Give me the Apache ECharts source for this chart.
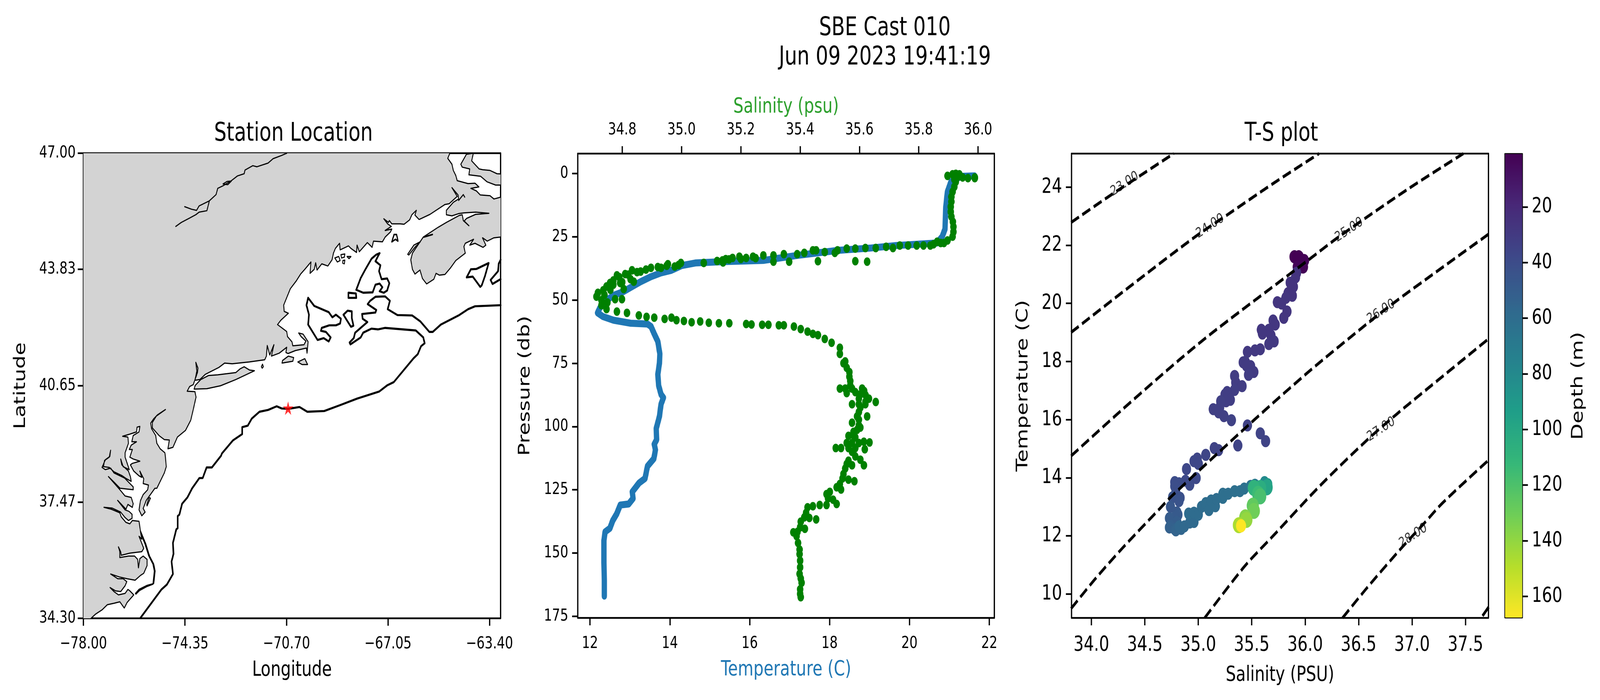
<!DOCTYPE html>
<html><head><meta charset="utf-8">
<style>html,body{margin:0;padding:0;background:#fff;overflow:hidden;width:100%;height:100%}#c{width:5392px;height:1791px;transform-origin:0 0}</style>
<script src="https://cdn.jsdelivr.net/npm/echarts@6/dist/echarts.min.js"></script></head>
<body><div id="c"></div>
<script>
// ---------- Station map (lon, lat) ----------
const lonTicks=[-78,-74.35,-70.7,-67.05,-63.4];
const latTicks=[34.30,37.47,40.65,43.83,47.00];
const station=[[-70.64,40.04]];
const landMain=[[-77.85,34.2],[-77.71,34.31],[-77.57,34.41],[-77.33,34.53],[-77.14,34.67],[-76.90,34.71],[-76.69,34.75],[-76.53,34.58],[-76.43,34.73],[-76.19,34.94],[-76.33,35.05],[-76.40,35.09],[-76.50,34.98],[-76.74,34.94],[-76.90,35.03],[-77.04,35.14],[-76.85,35.05],[-76.66,35.03],[-76.50,35.19],[-76.44,35.30],[-76.57,35.38],[-76.76,35.38],[-77.02,35.51],[-76.71,35.43],[-76.43,35.38],[-76.14,35.34],[-75.95,35.47],[-75.83,35.53],[-75.71,35.74],[-75.71,35.91],[-75.85,36.00],[-75.97,35.93],[-76.02,35.68],[-76.05,35.91],[-76.16,36.00],[-76.38,36.00],[-76.69,35.96],[-76.69,36.12],[-76.74,36.25],[-76.66,36.12],[-76.64,36.02],[-76.33,36.08],[-75.90,36.12],[-75.83,36.21],[-76.00,36.54],[-75.90,36.46],[-75.95,36.69],[-76.00,36.95],[-76.24,36.97],[-76.33,36.88],[-76.47,36.92],[-76.64,37.07],[-76.69,37.18],[-77.00,37.28],[-77.26,37.33],[-76.97,37.31],[-76.66,37.20],[-76.50,37.05],[-76.38,36.97],[-76.25,37.03],[-76.25,37.14],[-76.36,37.22],[-76.50,37.26],[-76.77,37.52],[-76.47,37.28],[-76.40,37.41],[-76.24,37.33],[-76.21,37.43],[-76.28,37.60],[-76.50,37.64],[-76.71,37.83],[-77.10,38.17],[-76.90,38.02],[-76.68,37.85],[-76.21,37.81],[-76.21,37.89],[-76.38,38.02],[-76.52,38.13],[-76.90,38.27],[-77.02,38.40],[-77.21,38.36],[-77.33,38.42],[-77.21,38.63],[-77.05,38.72],[-77.02,38.89],[-77.07,38.70],[-77.24,38.61],[-77.28,38.44],[-77.07,38.42],[-76.90,38.30],[-76.62,38.20],[-76.45,38.11],[-76.28,38.04],[-76.31,38.17],[-76.38,38.32],[-76.62,38.49],[-76.66,38.65],[-76.57,38.44],[-76.35,38.36],[-76.50,38.70],[-76.50,38.82],[-76.38,39.08],[-76.40,39.25],[-76.59,39.27],[-76.33,39.33],[-76.09,39.39],[-76.07,39.52],[-75.97,39.54],[-76.00,39.39],[-76.21,39.29],[-76.26,39.12],[-76.09,39.12],[-76.28,39.03],[-76.35,38.91],[-76.24,38.91],[-76.33,38.70],[-76.21,38.65],[-75.97,38.59],[-76.24,38.53],[-76.31,38.49],[-76.19,38.32],[-76.00,38.19],[-75.90,38.15],[-75.97,38.32],[-75.83,38.11],[-75.85,37.98],[-75.66,37.94],[-75.69,37.81],[-75.85,37.68],[-75.95,37.51],[-76.00,37.26],[-75.90,37.10],[-75.78,37.20],[-75.85,37.30],[-75.74,37.52],[-75.43,37.85],[-75.36,37.85],[-75.09,38.27],[-75.02,38.44],[-75.05,38.70],[-75.07,38.82],[-75.24,38.93],[-75.36,39.08],[-75.40,39.29],[-75.55,39.48],[-75.58,39.63],[-75.47,39.75],[-75.33,39.86],[-75.05,40.00],[-75.38,39.82],[-75.52,39.65],[-75.52,39.50],[-75.28,39.29],[-75.09,39.18],[-74.91,39.17],[-74.96,38.93],[-74.78,38.97],[-74.62,39.25],[-74.33,39.43],[-74.14,39.71],[-74.05,40.00],[-73.95,40.34],[-73.99,40.49],[-74.27,40.50],[-74.18,40.63],[-74.05,40.68],[-73.90,41.01],[-73.88,41.13],[-73.96,41.29],[-73.92,41.05],[-73.99,40.80],[-73.81,40.82],[-73.62,40.96],[-73.13,41.15],[-72.92,41.27],[-72.65,41.25],[-72.03,41.30],[-71.48,41.36],[-71.42,41.46],[-71.39,41.75],[-71.30,41.49],[-71.15,41.77],[-71.24,41.46],[-70.96,41.54],[-70.69,41.70],[-70.72,41.56],[-70.64,41.53],[-70.38,41.61],[-69.98,41.68],[-69.96,41.54],[-69.92,41.85],[-70.10,42.06],[-70.26,42.09],[-70.17,41.99],[-70.00,41.87],[-70.07,41.77],[-70.47,41.74],[-70.50,41.85],[-70.66,41.99],[-70.69,42.13],[-71.02,42.32],[-70.90,42.44],[-70.63,42.63],[-70.78,42.68],[-70.80,42.85],[-70.56,43.30],[-70.34,43.52],[-70.19,43.70],[-70.04,43.83],[-69.82,44.03],[-69.85,43.72],[-69.70,43.83],[-69.65,44.01],[-69.60,43.81],[-69.43,43.98],[-69.21,43.92],[-69.06,44.09],[-69.01,44.27],[-68.94,44.40],[-68.79,44.54],[-68.77,44.36],[-68.47,44.47],[-68.38,44.40],[-68.18,44.29],[-68.16,44.49],[-68.08,44.31],[-67.79,44.56],[-67.62,44.43],[-67.57,44.60],[-67.25,44.58],[-67.15,44.71],[-66.96,44.85],[-66.91,44.93],[-67.15,44.89],[-66.93,45.00],[-67.06,45.07],[-67.20,45.21],[-67.03,45.11],[-67.00,45.16],[-66.91,45.07],[-66.61,45.07],[-66.47,45.06],[-66.27,45.18],[-66.19,45.32],[-66.03,45.44],[-66.08,45.31],[-65.93,45.19],[-65.54,45.33],[-65.00,45.60],[-64.85,45.62],[-64.56,45.82],[-64.75,46.06],[-64.53,45.86],[-64.51,45.75],[-64.70,45.66],[-64.95,45.44],[-64.95,45.32],[-64.75,45.29],[-64.51,45.35],[-64.33,45.37],[-63.90,45.39],[-63.42,45.36],[-63.90,45.33],[-64.22,45.22],[-64.31,45.15],[-64.14,45.02],[-64.34,45.16],[-64.38,45.32],[-64.49,45.30],[-64.95,45.11],[-65.24,44.98],[-65.78,44.71],[-66.17,44.27],[-66.23,44.09],[-66.17,43.83],[-66.08,43.70],[-65.90,43.81],[-65.81,43.58],[-65.66,43.43],[-65.40,43.56],[-65.32,43.72],[-65.20,43.67],[-65.00,43.69],[-64.80,43.87],[-64.61,44.07],[-64.27,44.27],[-64.32,44.45],[-64.27,44.54],[-63.97,44.65],[-64.11,44.49],[-63.92,44.54],[-63.63,44.43],[-63.53,44.49],[-63.65,44.69],[-63.48,44.60],[-63.24,44.69],[-63.00,44.71],[-62.8,44.7],[-62.8,45.8],[-63.00,45.80],[-63.24,45.75],[-63.38,45.84],[-63.73,45.86],[-63.87,45.97],[-64.07,46.04],[-63.78,46.08],[-63.92,46.18],[-64.17,46.17],[-64.56,46.25],[-64.61,46.39],[-64.70,46.53],[-64.75,46.70],[-64.90,46.86],[-64.83,46.99],[-64.7,47.3],[-80,47.3],[-80,33.5]];
const outerBanks=[[-75.95,36.69],[-75.76,36.34],[-75.62,36.0],[-75.47,35.78],[-75.42,35.59],[-75.47,35.25],[-75.71,35.20],[-76.0,35.09],[-76.13,34.98],[-76.11,34.96],[-75.98,35.06],[-75.71,35.17],[-75.50,35.23],[-75.45,35.59],[-75.50,35.78],[-75.65,36.0],[-75.79,36.34],[-75.93,36.60]];
const longIsland=[[-74.02,40.56],[-73.56,40.57],[-73.07,40.65],[-72.52,40.82],[-71.85,41.06],[-72.03,41.08],[-72.22,41.17],[-72.37,41.11],[-72.52,41.01],[-73.17,40.95],[-73.50,40.93],[-73.78,40.82],[-73.98,40.66]];
const marthasVineyard=[[-70.86,41.27],[-70.84,41.34],[-70.63,41.46],[-70.44,41.42],[-70.47,41.32]];
const nantucket=[[-70.29,41.30],[-70.04,41.39],[-69.94,41.23],[-70.14,41.23]];
const assateague=[[-75.71,37.37],[-75.59,37.58],[-75.64,37.60],[-75.72,37.41]];
const digbyNeck=[[-66.34,44.24],[-66.12,44.49],[-65.89,44.58],[-65.95,44.53],[-66.08,44.43],[-66.30,44.22]];
const princeEdward=[[-64.23,46.97],[-63.98,47.0],[-64.04,46.79],[-63.77,46.57],[-63.64,46.55],[-63.38,46.53],[-63.13,46.44],[-62.9,46.43],[-62.9,46.13],[-63.18,46.13],[-63.49,46.22],[-63.72,46.37],[-64.14,46.41],[-64.11,46.57],[-64.38,46.62],[-64.43,46.70]];
const capeIslands=[marthasVineyard,nantucket,assateague,digbyNeck,princeEdward,longIsland,outerBanks];
const shelfEdge=[[-75.95,34.31],[-75.19,35.09],[-75.00,35.22],[-74.78,35.51],[-74.83,35.85],[-74.76,36.06],[-74.78,36.36],[-74.66,36.73],[-74.61,36.76],[-74.61,37.09],[-74.55,37.13],[-74.45,37.43],[-74.26,37.60],[-74.09,37.85],[-73.83,38.13],[-73.71,38.13],[-73.57,38.42],[-73.38,38.42],[-73.05,38.74],[-73.02,38.80],[-72.62,39.16],[-72.29,39.33],[-72.29,39.52],[-72.09,39.56],[-71.95,39.75],[-71.67,39.94],[-71.36,39.99],[-71.05,40.09],[-70.87,40.03],[-70.63,40.02],[-70.23,40.07],[-69.95,39.94],[-69.34,39.96],[-68.74,40.13],[-68.16,40.30],[-67.37,40.49],[-67.08,40.66],[-66.84,40.75],[-66.13,41.40],[-65.98,41.51],[-65.86,41.73],[-65.73,41.81],[-65.78,41.97],[-66.05,42.16],[-67.15,42.23],[-67.40,42.19],[-67.64,42.21],[-67.94,42.10],[-68.03,41.97],[-68.40,41.78],[-68.43,41.83],[-68.28,41.95],[-68.23,42.10],[-67.79,42.39],[-67.96,42.48],[-67.98,42.61],[-67.50,42.65],[-67.47,42.72],[-67.78,42.88],[-67.69,42.97],[-67.50,43.08],[-67.15,43.09],[-66.98,42.97],[-67.06,42.74],[-66.71,42.58],[-66.18,42.57],[-65.89,42.41],[-65.56,42.12],[-65.44,42.12],[-65.15,42.32],[-64.51,42.57],[-64.17,42.74],[-63.92,42.82],[-63.00,42.85]];
const basinA=[[-69.92,43.05],[-69.70,42.83],[-69.18,42.66],[-69.05,42.52],[-68.92,42.59],[-68.74,42.48],[-68.77,42.35],[-68.92,42.30],[-69.16,42.30],[-69.43,42.23],[-69.46,42.15],[-69.28,42.12],[-69.11,41.97],[-69.18,41.86],[-69.36,41.95],[-69.58,41.90],[-69.92,42.32],[-69.89,42.59],[-69.98,42.85],[-69.92,43.05]];
const basinB=[[-68.65,42.59],[-68.50,42.70],[-68.35,42.68],[-68.35,42.50],[-68.29,42.29],[-68.38,42.26],[-68.52,42.43],[-68.65,42.59]];
const basinC=[[-67.35,44.27],[-67.47,44.23],[-67.64,44.12],[-67.86,43.83],[-68.03,43.59],[-68.19,43.27],[-67.94,43.19],[-67.60,43.20],[-67.50,43.41],[-67.35,43.44],[-67.25,43.34],[-67.35,43.23],[-67.20,43.19],[-67.08,43.25],[-67.00,43.45],[-67.08,43.58],[-67.28,43.56],[-67.37,43.78],[-67.32,43.94],[-67.50,44.05],[-67.40,44.20],[-67.35,44.27]];
const basinD=[[-68.47,43.19],[-68.20,43.17],[-68.19,43.05],[-68.47,43.05],[-68.47,43.19]];
const basinE=[[-64.22,43.61],[-64.07,43.83],[-63.87,43.84],[-63.43,44.00],[-63.56,43.65],[-63.68,43.39],[-63.73,43.35],[-64.00,43.63],[-64.22,43.61]];
const basinF=[[-63.00,43.56],[-63.29,43.43],[-63.36,43.54],[-63.09,43.78],[-63.07,43.98],[-63.00,44.09]];
const stLawrence=[[-74.68,45.00],[-74.48,45.11],[-74.18,45.23],[-73.96,45.32],[-73.84,45.39],[-73.56,45.43],[-73.47,45.70],[-73.23,45.87],[-73.17,46.04],[-72.98,46.11],[-72.68,46.25],[-72.46,46.38],[-72.22,46.44],[-72.19,46.54],[-71.91,46.66],[-71.76,46.63],[-71.36,46.73],[-71.18,46.85],[-70.87,46.94],[-70.69,47.00]];
const ottawaRiver=[[-74.36,45.54],[-74.11,45.47],[-73.93,45.44],[-73.84,45.56],[-73.47,45.70]];
const lakeStPierre=[[-72.98,46.16],[-72.83,46.23],[-72.68,46.24],[-72.81,46.14],[-72.98,46.16]];
const blockIsland=[[-71.60,41.17],[-71.56,41.24],[-71.53,41.17],[-71.57,41.13],[-71.60,41.17]];
const grandManan=[[-66.91,44.58],[-66.83,44.78],[-66.74,44.78],[-66.69,44.60],[-66.78,44.65],[-66.91,44.58]];
const penobA=[[-68.96,44.14],[-68.82,44.18],[-68.77,44.07],[-68.87,44.03],[-68.96,44.14]];
const penobB=[[-68.74,44.23],[-68.60,44.25],[-68.62,44.16],[-68.72,44.14],[-68.74,44.23]];
const penobC=[[-68.67,44.07],[-68.60,44.08],[-68.62,43.98],[-68.68,44.00],[-68.67,44.07]];
const penobD=[[-68.52,44.18],[-68.38,44.18],[-68.45,44.12],[-68.52,44.18]];
const baieVerte=[[-64.51,45.71],[-64.34,45.87],[-64.29,45.80]];
const stMarys=[[-65.76,44.71],[-65.45,44.78]];
// ---------- CTD profile ----------
const tempTicks=[12,14,16,18,20,22];
const salTicks=[34.8,35.0,35.2,35.4,35.6,35.8,36.0];
const presTicks=[0,25,50,75,100,125,150,175];
const tempProfile=[[21.63,1],[21.29,1.2],[21.04,3.3],[20.95,7.3],[20.91,13.2],[20.89,22],[20.82,25],[20.69,27.5],[19.67,28.5],[19.03,29.5],[18.22,30.4],[17.2,32.4],[16.34,34.4],[15.32,34.9],[14.64,35.4],[14.3,36.4],[14.04,38.3],[13.78,39.3],[13.53,40.8],[13.27,42.8],[13.06,44.7],[12.84,46.7],[12.59,48.2],[12.42,50.1],[12.25,53.1],[12.19,55.1],[12.33,56.6],[12.59,58],[13.02,59.2],[13.44,59.5],[13.53,60.5],[13.61,63.4],[13.7,66.4],[13.75,71.3],[13.74,75],[13.7,79.4],[13.72,83.8],[13.78,87.3],[13.84,88.6],[13.78,91.2],[13.74,96],[13.66,100.8],[13.67,105.2],[13.61,107],[13.64,109.2],[13.6,112.7],[13.44,115.7],[13.38,120.5],[13.23,122.3],[13.06,125.8],[13.08,128.4],[12.97,130.6],[12.76,131],[12.67,134.5],[12.57,137.2],[12.5,140.2],[12.38,141.6],[12.35,145],[12.35,153.8],[12.36,160.8],[12.36,167]];
const salProfile=[[35.897,1],[35.914,0.4],[35.925,0.2],[35.937,0.4],[35.948,1.6],[35.966,1.9],[35.989,1.6],[35.989,1.9],[35.93,1.6],[35.92,2.4],[35.925,3.3],[35.92,5.3],[35.914,7.3],[35.91,9.3],[35.91,11.2],[35.908,13.2],[35.908,15.2],[35.91,17.1],[35.915,19.1],[35.917,21.1],[35.917,23.1],[35.914,25],[35.897,26.5],[35.874,27.5],[35.85,28],[35.885,27.5],[35.862,27],[35.839,28.5],[35.816,28.5],[35.793,28.5],[35.764,28.5],[35.736,28.5],[35.713,29.5],[35.69,29],[35.655,29.5],[35.62,29.5],[35.586,29.7],[35.557,29.7],[35.526,30.4],[35.517,31.4],[35.483,31.1],[35.454,30.4],[35.443,30.4],[35.414,31.4],[35.39,31.9],[35.345,31.9],[35.31,32.4],[35.276,32.4],[35.241,32.9],[35.218,33.4],[35.195,32.9],[35.172,33.4],[35.149,33.9],[35.138,34.4],[35.16,34],[35.2,33.8],[35.25,33.5],[35.12,34.6],[35.14,35.2],[35.31,34.9],[35.363,34.9],[35.46,34.7],[35.586,34.7],[35.626,34.9],[35.075,35.4],[34.998,35.4],[34.977,36.8],[34.954,35.9],[34.931,37.3],[34.897,37.3],[34.862,38.8],[34.833,38.3],[34.81,39.8],[34.828,41.8],[34.839,42.8],[34.782,40.3],[34.77,42.3],[34.793,43.3],[34.759,43.3],[34.747,44.7],[34.805,45.7],[34.736,46.2],[34.718,47.2],[34.713,48.7],[34.799,49.7],[34.776,49.7],[34.73,50.1],[34.73,52.1],[34.79,41],[34.80,43],[34.77,44],[34.76,46],[34.82,40],[34.85,39],[34.88,38],[34.92,37],[34.95,36.5],[34.99,36.2],[34.74,48],[34.75,51],[34.747,53.6],[34.782,54.6],[34.816,55.1],[34.856,56.1],[34.882,56.7],[34.908,57],[34.943,57.5],[34.966,57],[34.983,58],[35.008,58.3],[35.034,58.8],[35.063,58.5],[35.092,59],[35.126,59.2],[35.161,59.2],[35.218,59.5],[35.236,59.7],[35.272,59.8],[35.293,59.8],[35.328,60],[35.345,60],[35.379,60.5],[35.402,61.5],[35.425,62.5],[35.443,63.4],[35.46,63.9],[35.483,65.4],[35.506,66.9],[35.534,68.9],[35.534,71.3],[35.552,74.3],[35.546,75],[35.557,76.8],[35.566,78.5],[35.566,80.3],[35.569,82],[35.569,83.8],[35.575,85],[35.534,85],[35.552,85],[35.609,85],[35.616,86],[35.557,86.8],[35.586,86.4],[35.603,87.3],[35.621,87.7],[35.632,89],[35.655,90.3],[35.62,90.3],[35.598,89],[35.575,91.2],[35.598,91.2],[35.62,91.2],[35.603,92.5],[35.598,94.3],[35.626,96],[35.592,96],[35.598,97.3],[35.575,98.5],[35.598,99.5],[35.603,100.4],[35.592,101.3],[35.58,102.1],[35.58,103.5],[35.563,103.7],[35.586,104.3],[35.557,106.5],[35.575,106.5],[35.598,106.5],[35.615,106],[35.634,106.3],[35.52,108.5],[35.538,108.5],[35.563,108.5],[35.586,108.5],[35.618,109],[35.575,110],[35.586,111.8],[35.563,113.5],[35.603,113.1],[35.557,114.8],[35.575,115.3],[35.615,115.3],[35.552,116.6],[35.546,118.8],[35.543,120.5],[35.563,121],[35.583,121.6],[35.534,122.7],[35.523,124],[35.538,124.9],[35.5,125.8],[35.489,126.7],[35.494,128.4],[35.511,128.9],[35.523,130.6],[35.489,131],[35.466,131],[35.443,131.5],[35.425,131.9],[35.42,134.1],[35.414,135.9],[35.431,136.1],[35.454,136.7],[35.402,137.6],[35.4,139.8],[35.416,140.4],[35.391,141.6],[35.377,141.8],[35.388,143.3],[35.393,146],[35.398,148.6],[35.398,150.4],[35.4,153],[35.4,155.6],[35.398,158.2],[35.402,160],[35.405,161.7],[35.4,164.3],[35.4,166.1],[35.402,167.4]];
// ---------- T-S diagram: salinity, temperature, depth ----------
const tsSalTicks=[34,34.5,35,35.5,36,36.5,37,37.5];
const tsTempTicks=[10,12,14,16,18,20,22,24];
const depthTicks=[20,40,60,80,100,120,140,160];
const tsPoints=[[35.90,21.60,1],[35.94,21.60,1],[35.99,21.47,2],[35.98,21.25,2],[35.93,21.25,3],[35.92,21.05,26],[35.91,20.89,26],[35.86,20.71,26],[35.89,20.57,26],[35.84,20.35,26],[35.88,20.26,26],[35.82,20.19,27],[35.74,20.04,27],[35.78,19.99,27],[35.83,19.72,27],[35.80,19.50,27],[35.70,19.41,28],[35.72,19.27,28],[35.66,19.09,28],[35.59,19.09,28],[35.60,18.96,28],[35.68,18.90,28],[35.71,18.69,29],[35.66,18.60,29],[35.58,18.42,29],[35.53,18.38,29],[35.46,18.33,29],[35.42,17.97,30],[35.44,17.99,30],[35.49,17.84,30],[35.45,17.86,30],[35.52,17.64,30],[35.47,17.54,31],[35.34,17.50,31],[35.35,17.28,31],[35.41,17.15,31],[35.34,17.02,32],[35.27,16.95,32],[35.25,16.86,32],[35.30,16.68,32],[35.26,16.63,32],[35.21,16.63,33],[35.20,16.41,33],[35.14,16.36,33],[35.19,16.25,33],[35.24,16.12,33],[35.31,15.98,34],[35.46,15.80,34],[35.58,15.53,35],[35.63,15.26,35],[35.37,15.11,35],[35.19,14.95,35],[35.15,15.02,35],[35.07,14.79,36],[34.99,14.66,36],[34.96,14.57,37],[35.00,14.48,37],[34.89,14.30,37],[34.98,13.99,38],[34.88,13.90,38],[34.92,13.76,39],[34.82,13.81,40],[34.78,13.85,40],[34.78,13.71,41],[34.79,13.49,41],[34.83,13.31,42],[34.76,13.33,44],[34.82,13.20,44],[34.74,13.00,46],[34.80,12.81,47],[34.81,12.73,48],[34.78,12.64,48],[34.73,12.61,49],[34.80,12.48,50],[34.74,12.35,51],[34.73,12.29,52],[34.78,12.23,53],[34.79,12.19,54],[34.84,12.24,55],[34.82,12.33,56],[34.87,12.33,57],[34.92,12.46,57],[34.96,12.48,58],[34.91,12.77,59],[34.96,12.80,59],[35.00,12.73,59],[35.03,13.00,59],[35.07,13.13,60],[35.10,12.89,60],[35.12,13.22,60],[35.16,13.02,60],[35.17,13.27,60],[35.23,13.31,61],[35.23,13.45,61],[35.28,13.45,61],[35.34,13.54,62],[35.39,13.54,62],[35.43,13.63,63],[35.49,13.72,65],[35.53,13.76,70],[35.62,13.85,80],[35.65,13.78,90],[35.64,13.67,98],[35.58,13.65,104],[35.52,13.65,108],[35.56,13.45,114],[35.58,13.36,118],[35.51,13.04,126],[35.52,12.86,130],[35.44,12.64,136],[35.45,12.55,140],[35.38,12.37,146],[35.40,12.35,167]];
const isoA23=[[33.81,22.78],[34.14,23.62],[34.46,24.40],[34.77,25.15]];
const isoA24=[[33.81,19.0],[34.36,20.58],[34.96,22.26],[35.27,23.04],[35.70,24.12],[36.13,25.15]];
const isoA25=[[33.81,14.75],[34.29,16.35],[34.82,18.05],[35.17,19.1],[36.03,21.49],[36.32,22.3],[36.97,23.95],[37.48,25.15]];
const isoA26=[[33.81,9.50],[34.04,10.54],[34.29,11.58],[34.64,12.94],[34.76,13.4],[35.52,15.98],[36.05,17.7],[36.58,19.3],[36.86,20.1],[37.29,21.25],[37.72,22.39]];
const isoA27=[[35.06,9.18],[35.43,10.94],[35.70,12.0],[36.14,13.73],[36.58,15.3],[36.86,16.2],[37.29,17.5],[37.72,18.79]];
const isoA28=[[36.35,9.18],[36.58,10.22],[36.90,11.58],[37.11,12.42],[37.29,13.15],[37.72,14.62]];
const isoA29=[[37.66,9.25],[37.72,9.57]];
const isoLabels=[[34.31,24.10,'23.00'],[35.11,22.65,'24.00'],[36.41,22.52,'25.00'],[36.71,19.71,'26.00'],[36.71,15.66,'27.00'],[37.01,12.0,'28.00']];
const viridis=['#440154','#482878','#3e4989','#31688e','#26828e','#1f9e89','#35b779','#6ece58','#b5de2b','#fde725'];

// ---------- chart ----------
const FF='DejaVu Sans', spine=4.3, tickLen=19;
const lineS={color:'#000',width:spine};
const grids=[
 {left:281,top:392,width:1406,height:1190},
 {left:1947,top:393,width:1404,height:1188},
 {left:3611,top:393,width:1405,height:1188},
 {left:5072,top:394,width:58,height:1186}];
function ticked(gi,pos,min,max,ticks,fs,fmt,margin,extra){
 return Object.assign({type:'value',gridIndex:gi,position:pos,min,max,
  axisLine:{show:true,onZero:false,lineStyle:lineS},
  axisTick:{show:true,length:tickLen,lineStyle:{width:spine,color:'#000'},customValues:ticks},
  axisLabel:{show:true,customValues:ticks,fontSize:fs,fontFamily:FF,color:'#000',margin,formatter:fmt},
  splitLine:{show:false}},extra||{});
}
function spineOnly(gi,pos,min,max,inverse){
 return {type:'value',gridIndex:gi,position:pos,min,max,inverse:!!inverse,
  axisLine:{show:true,onZero:false,lineStyle:lineS},axisTick:{show:false},axisLabel:{show:false},splitLine:{show:false}};
}
function nm(name,gap,size,color,rot){
 return {name,nameLocation:'middle',nameGap:gap,nameRotate:rot,
  nameTextStyle:{fontSize:size,fontFamily:FF,color:color||'#000'}};
}
const xAxes=[
 ticked(0,'bottom',-78,-63,lonTicks,43,v=>v.toFixed(2).replace('-','\u2212'),44,nm('Longitude',106,54)), //0
 spineOnly(0,'top',-78,-63),                                                                             //1
 ticked(1,'bottom',11.695,22.126,tempTicks,43,v=>String(v),44,nm('Temperature (C)',106,54,'#1f77b4')),   //2
 ticked(1,'top',34.65,36.055,salTicks,43,v=>v.toFixed(1),39,nm('Salinity (psu)',92,54,'#2ca02c')),       //3
 ticked(2,'bottom',33.814,37.715,tsSalTicks,54,v=>v.toFixed(1),43,nm('Salinity (PSU)',120,54)),          //4
 spineOnly(2,'top',33.814,37.715),                                                                       //5
 spineOnly(3,'bottom',0,1),                                                                              //6
 spineOnly(3,'top',0,1)                                                                                  //7
];
const yAxes=[
 ticked(0,'left',34.3,47,latTicks,43,v=>v.toFixed(2),26,nm('Latitude',184,54,'#000',90)),                //0
 spineOnly(0,'right',34.3,47),                                                                           //1
 ticked(1,'left',-7.8,175.6,presTicks,43,v=>String(v),32,Object.assign(nm('Pressure (db)',150,54,'#000',90),{inverse:true})), //2
 spineOnly(1,'right',-7.8,175.6,true),                                                                   //3
 ticked(2,'left',9.18,25.15,tsTempTicks,54,v=>String(v),32,nm('Temperature (C)',136,54,'#000',90)),      //4
 spineOnly(2,'right',9.18,25.15),                                                                        //5
 ticked(3,'right',1,167.6,depthTicks,54,v=>String(v),32,Object.assign(nm('Depth (m)',162,54,'#000',90),{inverse:true})), //6
 spineOnly(3,'left',1,167.6,true)                                                                        //7
];
function mapLine(data,w){
 return {type:'line',xAxisIndex:0,yAxisIndex:0,data,showSymbol:false,symbol:'none',clip:true,silent:true,
  lineStyle:{color:'#000',width:w,join:'round',cap:'round'},z:3};
}
function land(rings,z){
 return {type:'custom',xAxisIndex:0,yAxisIndex:0,clip:true,silent:true,z:z||2,
  data:rings.map((r,i)=>[r[0][0],r[0][1],i]),
  renderItem:(p,api)=>{
    const pts=rings[api.value(2)].map(c=>api.coord(c));
    return {type:'polygon',shape:{points:pts},style:{fill:'#d3d3d3',stroke:'#000',lineWidth:3,lineJoin:'round'}};
  }};
}
function iso(data){
 return {type:'line',xAxisIndex:4,yAxisIndex:4,data,symbol:'none',smooth:0.3,clip:true,silent:true,z:4,
  lineStyle:{color:'#000',width:8,type:[30,13]}};
}
const series=[
 land([landMain]),
 land(capeIslands),
 mapLine(stLawrence,3),mapLine(ottawaRiver,3),
 mapLine(lakeStPierre,3),
 mapLine(blockIsland,3),mapLine(grandManan,4),mapLine(penobA,3),mapLine(penobB,3),mapLine(penobC,3),mapLine(penobD,3),
 mapLine(baieVerte,3),mapLine(stMarys,4),
 mapLine(shelfEdge,5.4),mapLine(basinA,5.4),mapLine(basinB,5.4),mapLine(basinC,5.4),mapLine(basinD,5.4),mapLine(basinE,5.4),mapLine(basinF,5.4),
 {type:'scatter',xAxisIndex:0,yAxisIndex:0,data:station,symbol:'path://M50 0 L61 35 L98 35 L68 57 L79 91 L50 70 L21 91 L32 57 L2 35 L39 35 Z',symbolSize:35,itemStyle:{color:'#ff0000'},z:6,silent:true},
 {type:'line',xAxisIndex:2,yAxisIndex:2,data:tempProfile,symbol:'none',silent:true,z:3,lineStyle:{color:'#1f77b4',width:18,cap:'round',join:'round'}},
 {type:'scatter',xAxisIndex:3,yAxisIndex:2,data:salProfile,symbol:'circle',symbolSize:22,silent:true,z:4,itemStyle:{color:'#008000',opacity:1}},
 iso(isoA23),iso(isoA24),iso(isoA25),iso(isoA26),iso(isoA27),iso(isoA28),iso(isoA29),
 {type:'scatter',xAxisIndex:4,yAxisIndex:4,data:isoLabels,symbolSize:0,silent:true,z:5,
  label:{show:true,position:'inside',rotate:27,fontSize:35,fontFamily:FF,color:'#000',formatter:p=>p.value[2]}},
 {type:'scatter',xAxisIndex:4,yAxisIndex:4,data:tsPoints,symbol:'circle',silent:true,z:3,
  symbolSize:v=>v[2]>=167?34:(v[2]>95?41:(v[2]<5?34:31)),itemStyle:{opacity:1}}
];
const tsIndex=series.length-1;
const titleStyle={fontSize:66,fontFamily:FF,color:'#000',fontWeight:'normal'};
const option={
 animation:false,backgroundColor:'#fff',
 title:[
  {text:'SBE Cast 010\nJun 09 2023 19:41:19',left:2977,top:30,textAlign:'center',textStyle:Object.assign({lineHeight:75,align:'center'},titleStyle)},
  {text:'Station Location',left:984,top:305,textAlign:'center',textStyle:titleStyle},
  {text:'T-S plot',left:4313,top:305,textAlign:'center',textStyle:titleStyle}],
 grid:grids,xAxis:xAxes,yAxis:yAxes,series,
 visualMap:[{type:'continuous',seriesIndex:tsIndex,dimension:2,min:1,max:167,inverse:true,calculable:false,
  left:5072,top:394,itemWidth:58,itemHeight:1186,padding:0,text:null,inRange:{color:viridis},z:1}]
};
// The sandbox window may be narrower than the requested 5392 px: fit the full-size drawing to it.
const el=document.getElementById('c');
el.style.transform='scale('+(window.innerWidth/5392)+','+(window.innerHeight/1791)+')';
echarts.init(el,null,{renderer:'canvas',devicePixelRatio:1}).setOption(option);
</script></body></html>
